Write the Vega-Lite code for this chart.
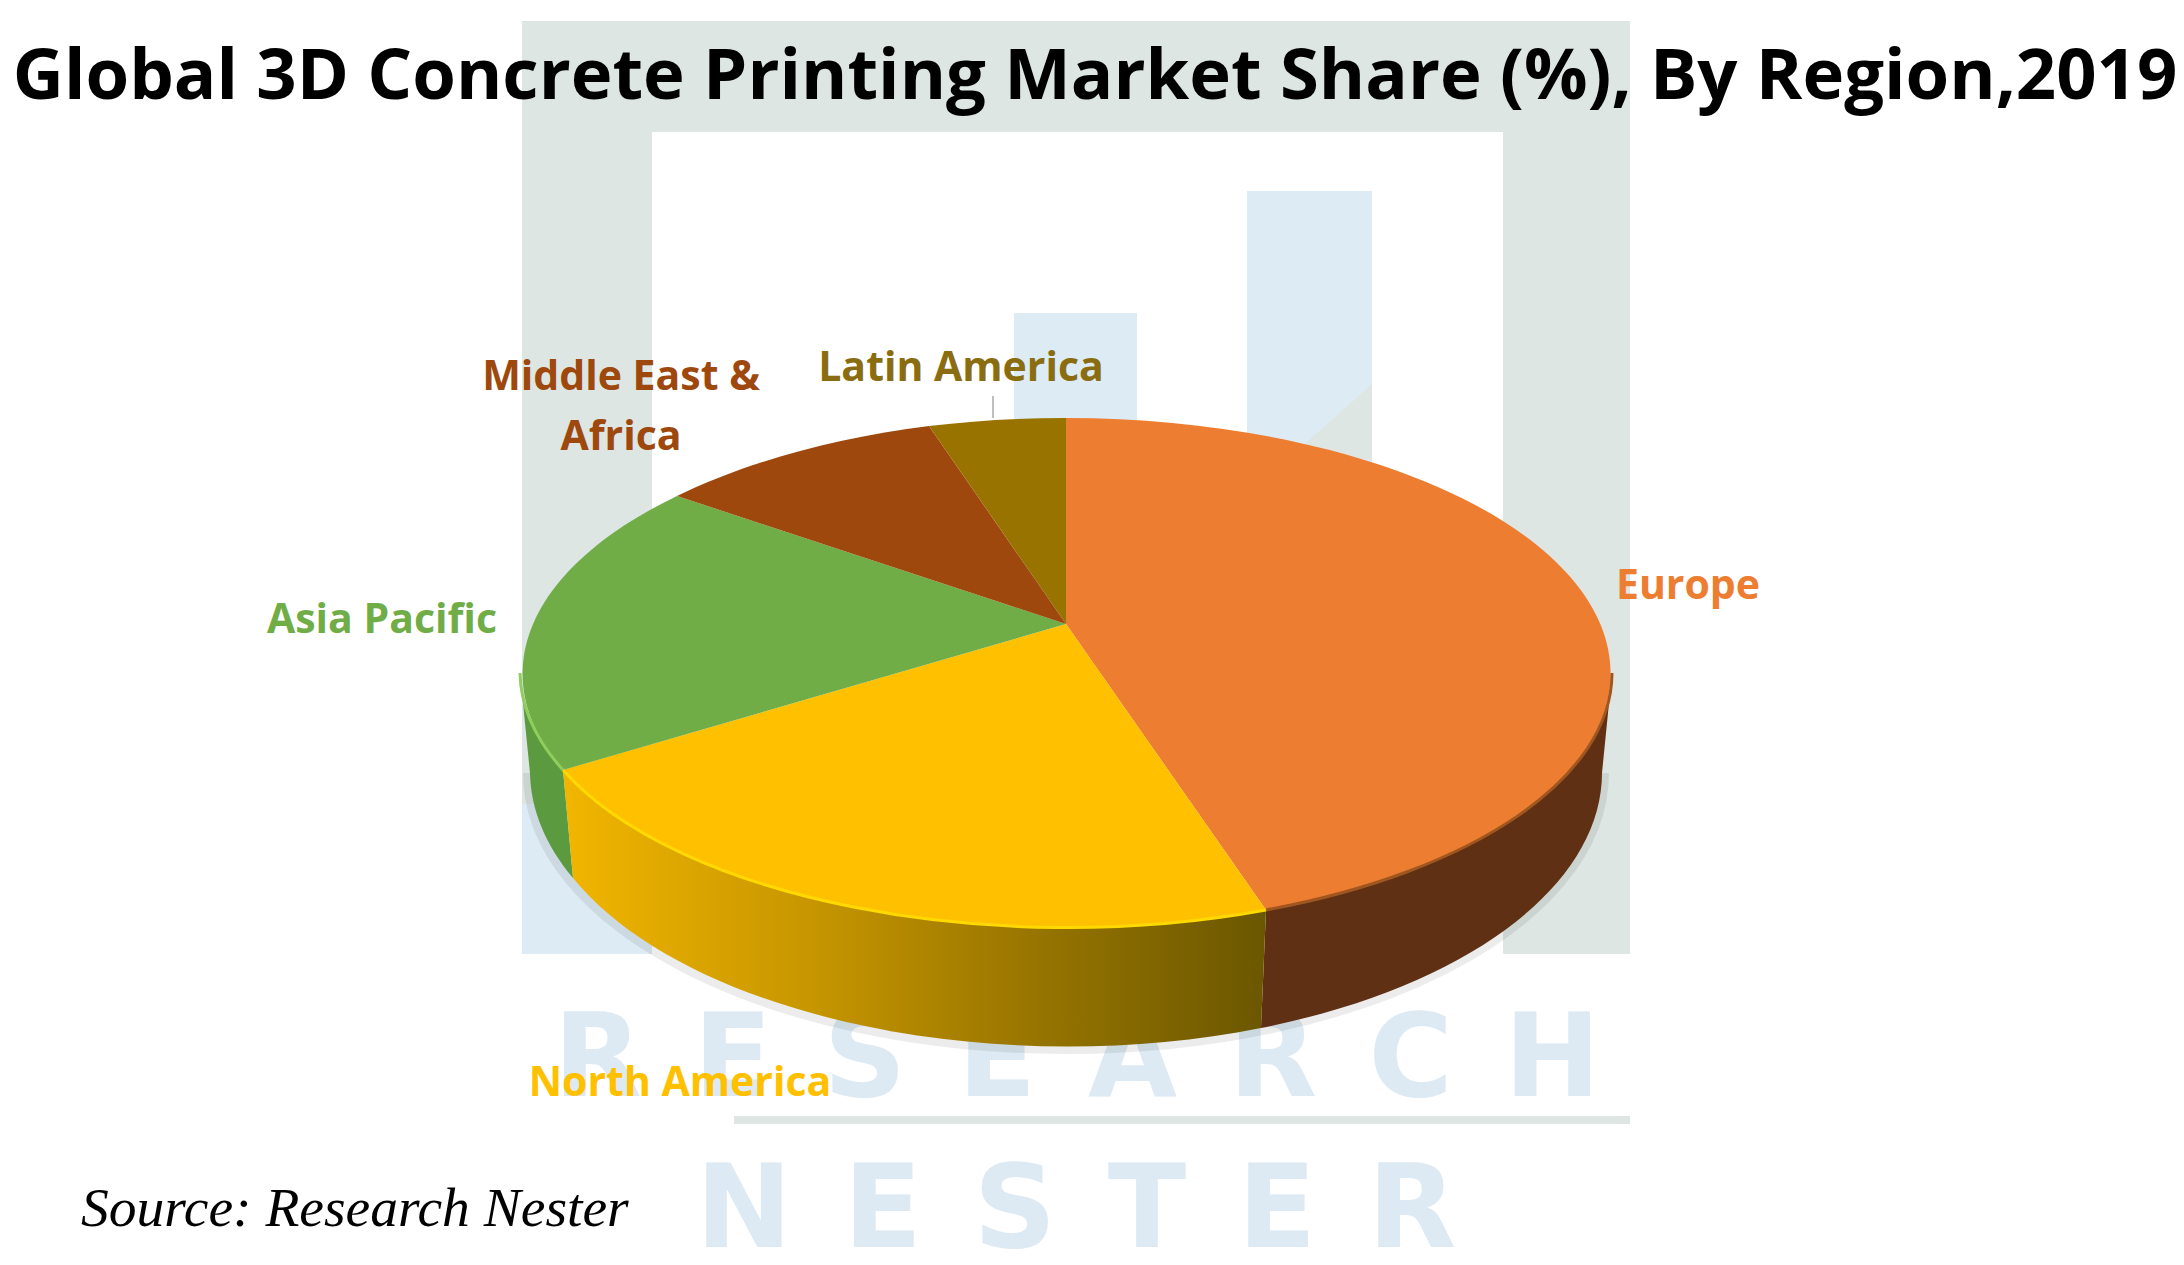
{
"$schema":"https://vega.github.io/schema/vega-lite/v6.json",
"width":2184,"height":1265,"padding":0,"autosize":{"type":"none"},"background":"#ffffff",
"title":{"text":"Global 3D Concrete Printing Market Share (%), By Region,2019","anchor":"middle","font":"Open Sans","fontWeight":"bold","fontSize":70.6,"color":"#000000","baseline":"alphabetic","offset":0,"dy":170,"dx":3},
"config":{"view":{"stroke":null}},
"resolve":{"scale":{"shape":"independent","color":"independent"}},
"data":{"values":[
{"region":"Europe","label":"Europe","share":45},
{"region":"North America","label":"North America","share":25},
{"region":"Asia Pacific","label":"Asia Pacific","share":18},
{"region":"Middle East & Africa","label":"Middle East &\nAfrica","share":8},
{"region":"Latin America","label":"Latin America","share":4}
]},
"layer":[
{"data":{"values":[{"part":"frame"},{"part":"corner"},{"part":"bars"},{"part":"wedge"},{"part":"line"}]},
"mark":{"type":"point","filled":true,"opacity":1,"strokeWidth":0},
"encoding":{"x":{"value":1066},"y":{"value":624},"size":{"value":4},
"shape":{"field":"part","legend":null,"scale":{"domain":["frame","corner","bars","wedge","line"],"range":[
"M-544,-603 L564,-603 L564,330 L437,330 L437,-492 L-414,-492 L-414,330 L-544,330 Z",
"M-544,180 L-414,180 L-414,330 L-544,330 Z",
"M-52,-311 L71,-311 L71,0 L-52,0 Z M181,-433 L306,-433 L306,0 L181,0 Z",
"M306,-240 L306,-165 L222,-165 Z",
"M-332,492 L564,492 L564,500 L-332,500 Z"]}},
"color":{"field":"part","legend":null,"scale":{"domain":["frame","corner","bars","wedge","line"],"range":["#dde6e2","#ddebf4","#ddebf4","#dde6e2","#dde6e2"]}}}},
{"data":{"values":[{"word":"R\u200a E\u200a S\u200a E\u200a A\u200a R\u200a C\u200a H"}]},
"mark":{"type":"text","font":"DejaVu Sans","fontWeight":"bold","fontSize":115,"baseline":"alphabetic","align":"center","color":"#ddeaf3"},
"encoding":{"text":{"field":"word"},"x":{"value":1077},"y":{"value":1096}}},
{"data":{"values":[{"word":"N\u200a E\u200a S\u200a T\u200a E\u200a R"}]},
"mark":{"type":"text","font":"DejaVu Sans","fontWeight":"bold","fontSize":115,"baseline":"alphabetic","align":"center","color":"#ddeaf3"},
"encoding":{"text":{"field":"word"},"x":{"value":1076},"y":{"value":1247}}},
{"data":{"values":[{"part":"shadow"}]},
"mark":{"type":"point","filled":false,"opacity":0.07,"stroke":"#000000","strokeWidth":14},
"encoding":{"x":{"value":1066},"y":{"value":624},"size":{"value":4},
"shape":{"value":"M536,149 A536,274 0 0 1 -536,149"}}},
{"transform":[{"filter":"datum.region==='Europe'||datum.region==='Asia Pacific'"}],
"mark":{"type":"point","filled":true,"opacity":1,"strokeWidth":0},
"encoding":{"x":{"value":1066},"y":{"value":624},"size":{"value":4},
"shape":{"field":"region","legend":null,"scale":{"domain":["Europe","Asia Pacific"],"range":[
"M546,49 A546,255 0 0 1 200,286 L195,404 A536,274 0 0 0 536,149 Z",
"M-503,146 A546,255 0 0 1 -546,49 L-536,149 A536,274 0 0 0 -493,254 Z"]}},
"color":{"field":"region","legend":null,"scale":{"domain":["Europe","Asia Pacific"],"range":["#5f3013","#5b9a3e"]}}}},
{"transform":[{"filter":"datum.region==='North America'"}],
"mark":{"type":"point","filled":true,"opacity":1,"strokeWidth":0,
"fill":{"gradient":"linear","x1":0,"y1":0,"x2":1,"y2":0,"stops":[{"offset":0,"color":"#f2b600"},{"offset":0.35,"color":"#c79600"},{"offset":0.7,"color":"#937200"},{"offset":1,"color":"#6b5700"}]}},
"encoding":{"x":{"value":1066},"y":{"value":624},"size":{"value":4},
"shape":{"value":"M200,286 A546,255 0 0 1 -503,146 L-493,254 A536,274 0 0 0 195,404 Z"}}},
{"mark":{"type":"point","filled":true,"opacity":1,"strokeWidth":0},
"encoding":{"x":{"value":1066},"y":{"value":624},"size":{"value":4},
"shape":{"field":"region","legend":null,"scale":{"domain":["Europe","North America","Asia Pacific","Middle East & Africa","Latin America"],"range":[
"M0,0 L0,-206 A546,255 0 0 1 200,286 Z",
"M0,0 L200,286 A546,255 0 0 1 -503,146 Z",
"M0,0 L-503,146 A546,255 0 0 1 -389,-128 Z",
"M0,0 L-389,-128 A546,255 0 0 1 -137,-198 Z",
"M0,0 L-137,-198 A546,255 0 0 1 0,-206 Z"]}},
"color":{"field":"region","legend":null,"scale":{"domain":["Europe","North America","Asia Pacific","Middle East & Africa","Latin America"],"range":["#ed7d31","#ffc000","#70ad47","#9e480e","#997300"]}}}},
{"transform":[{"filter":"datum.region==='Europe'||datum.region==='North America'||datum.region==='Asia Pacific'"}],
"mark":{"type":"point","filled":false,"opacity":1,"strokeWidth":3,"fill":null},
"encoding":{"x":{"value":1066},"y":{"value":624},"size":{"value":4},
"shape":{"field":"region","legend":null,"scale":{"domain":["Europe","North America","Asia Pacific"],"range":[
"M546,49 A546,255 0 0 1 200,286",
"M200,286 A546,255 0 0 1 -503,146",
"M-503,146 A546,255 0 0 1 -546,49"]}},
"color":{"field":"region","legend":null,"scale":{"domain":["Europe","North America","Asia Pacific"],"range":["#a0561f","#ffd900","#8fce5e"]}}}},
{"transform":[{"filter":"datum.region==='Latin America'"}],
"mark":{"type":"rule","color":"#7f7f7f","strokeWidth":1},
"encoding":{"x":{"value":993},"y":{"value":396},"y2":{"value":418}}},
{"transform":[{"filter":"datum.region==='Europe'"}],
"mark":{"type":"text","font":"Open Sans","fontWeight":"bold","fontSize":41,"align":"center","baseline":"middle","color":"#ed7d31"},
"encoding":{"text":{"field":"label"},"x":{"value":1688},"y":{"value":587}}},
{"transform":[{"filter":"datum.region==='North America'"}],
"mark":{"type":"text","font":"Open Sans","fontWeight":"bold","fontSize":41,"align":"center","baseline":"middle","color":"#ffc000"},
"encoding":{"text":{"field":"label"},"x":{"value":680},"y":{"value":1084}}},
{"transform":[{"filter":"datum.region==='Asia Pacific'"}],
"mark":{"type":"text","font":"Open Sans","fontWeight":"bold","fontSize":41,"align":"center","baseline":"middle","color":"#70ad47"},
"encoding":{"text":{"field":"label"},"x":{"value":382},"y":{"value":621}}},
{"transform":[{"filter":"datum.region==='Middle East & Africa'"}],
"mark":{"type":"text","font":"Open Sans","fontWeight":"bold","fontSize":41,"lineBreak":"\n","lineHeight":60,"align":"center","baseline":"middle","color":"#9e480e"},
"encoding":{"text":{"field":"label"},"x":{"value":621},"y":{"value":378}}},
{"transform":[{"filter":"datum.region==='Latin America'"}],
"mark":{"type":"text","font":"Open Sans","fontWeight":"bold","fontSize":41,"align":"center","baseline":"middle","color":"#8a6d10"},
"encoding":{"text":{"field":"label"},"x":{"value":961},"y":{"value":369}}},
{"data":{"values":[{"note":"Source: Research Nester"}]},
"mark":{"type":"text","font":"Liberation Serif","fontStyle":"italic","fontSize":55.5,"align":"left","baseline":"alphabetic","color":"#000000"},
"encoding":{"text":{"field":"note"},"x":{"value":81},"y":{"value":1226}}}
]
}
